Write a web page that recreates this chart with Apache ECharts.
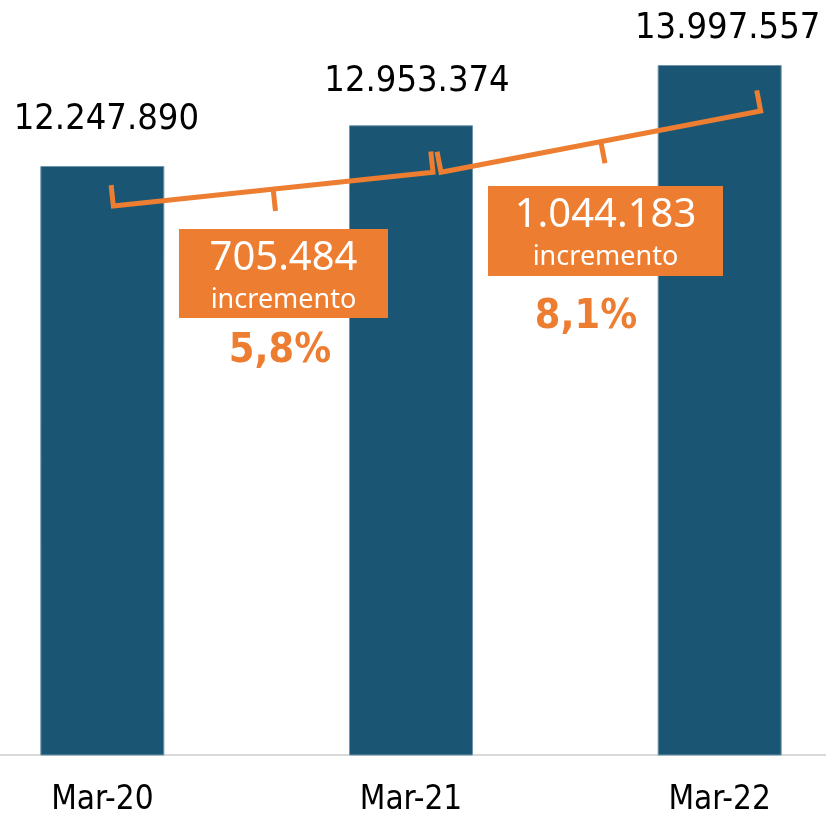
<!DOCTYPE html>
<html>
<head>
<meta charset="utf-8">
<script src="https://cdn.jsdelivr.net/npm/echarts@6/dist/echarts.min.js"></script>
<style>
  html, body { margin: 0; padding: 0; background: #fff; }
  #chart { width: 826px; height: 813px; }
</style>
</head>
<body>
<div id="chart"></div>
<script>
// datos
var categories = ['Mar-20', 'Mar-21', 'Mar-22'];
var values = [12247890, 12953374, 13997557];

// desplazamiento de las etiquetas sobre las barras
var labelShift = [[4, 0], [6, 2], [8, 10]];

var ORANGE = '#ED7D31';
var BAR = '#1a5674';

function fmt(n) {
  return String(n).replace(/\B(?=(\d{3})+(?!\d))/g, '.');
}

var myChart = echarts.init(document.getElementById('chart'));

var option = {
  animation: false,
  grid: { left: -52, right: -48, top: 0, bottom: 58, outerBoundsMode: 'none' },
  xAxis: {
    type: 'category',
    data: categories,
    axisLine: { lineStyle: { color: '#d9d9d9', width: 2 } },
    axisTick: { show: false },
    axisLabel: {
      color: '#000',
      fontFamily: 'DejaVu Sans Condensed',
      fontSize: 33,
      margin: 29,
    },
  },
  yAxis: {
    type: 'value',
    min: 2044000,
    max: 15124000,
    show: false,
    splitLine: { show: false },
  },
  series: [
    {
      type: 'bar',
      barWidth: 124,
      data: values.map(function (v, i) {
        return { value: v, label: { offset: labelShift[i] } };
      }),
      itemStyle: { color: BAR, borderColor: '#6f95ab', borderWidth: 1 },
      label: {
        show: true,
        position: 'top',
        distance: 28,
        formatter: function (p) { return fmt(p.value); },
        fontFamily: 'DejaVu Sans Condensed',
        fontSize: 36,
        lineHeight: 36,
        color: '#000',
      },
    },
  ],
};
myChart.setOption(option);

// llaves de incremento (ancladas a las barras)
var bracketAnchors = [
  { from: 0, to: 1, l: [11, 40], r: [22, 47] },
  { from: 1, to: 2, l: [30, 47], r: [41, 46] },
];
// cajas de texto
var boxes = [
  { x: 179, y: 229, w: 209, h: 89, pctX: 280, pctY: 351 },
  { x: 488, y: 186, w: 235, h: 90, pctX: 586, pctY: 317 },
];

var graphics = [];
bracketAnchors.forEach(function (b, k) {
  var p0 = myChart.convertToPixel({ seriesIndex: 0 }, [b.from, values[b.from]]);
  var p1 = myChart.convertToPixel({ seriesIndex: 0 }, [b.to, values[b.to]]);
  var L = [p0[0] + b.l[0], p0[1] + b.l[1]];
  var R = [p1[0] + b.r[0], p1[1] + b.r[1]];
  var dx = R[0] - L[0], dy = R[1] - L[1];
  var len = Math.sqrt(dx * dx + dy * dy);
  var n = [dy / len, -dx / len];
  var t = 21;
  graphics.push({
    type: 'polyline',
    z: 100,
    shape: { points: [[L[0] + n[0] * t, L[1] + n[1] * t], L, R, [R[0] + n[0] * t, R[1] + n[1] * t]] },
    style: { stroke: ORANGE, lineWidth: 5, fill: null, lineJoin: 'miter' },
  });
  var M = [(L[0] + R[0]) / 2, (L[1] + R[1]) / 2];
  graphics.push({
    type: 'polyline',
    z: 100,
    shape: { points: [M, [M[0] - n[0] * 22, M[1] - n[1] * 22]] },
    style: { stroke: ORANGE, lineWidth: 5, fill: null },
  });

  // caja con el incremento
  var diff = values[b.to] - values[b.from];
  var pct = (diff / values[b.from] * 100).toFixed(1).replace('.', ',') + '%';
  var box = boxes[k];
  var cx = box.x + box.w / 2;
  graphics.push({
    type: 'rect',
    z: 100,
    shape: { x: box.x, y: box.y, width: box.w, height: box.h },
    style: { fill: ORANGE },
  });
  graphics.push({
    type: 'text',
    z: 101,
    x: cx, y: box.y + 30,
    style: {
      text: fmt(diff), fill: '#fff', fontSize: 40, fontFamily: 'Noto Sans',
      align: 'center', verticalAlign: 'middle', textAlign: 'center', textVerticalAlign: 'middle',
    },
  });
  graphics.push({
    type: 'text',
    z: 101,
    x: cx, y: box.y + 71,
    style: {
      text: 'incremento', fill: '#fff', fontSize: 27, fontFamily: 'Noto Sans',
      align: 'center', verticalAlign: 'middle', textAlign: 'center', textVerticalAlign: 'middle',
    },
  });
  graphics.push({
    type: 'text',
    z: 101,
    x: box.pctX, y: box.pctY,
    style: {
      text: pct, fill: ORANGE, fontSize: 41, fontWeight: 'bold', fontFamily: 'DejaVu Sans Condensed',
      align: 'center', verticalAlign: 'middle', textAlign: 'center', textVerticalAlign: 'middle',
    },
  });
});

myChart.setOption({ graphic: graphics });
</script>
</body>
</html>
